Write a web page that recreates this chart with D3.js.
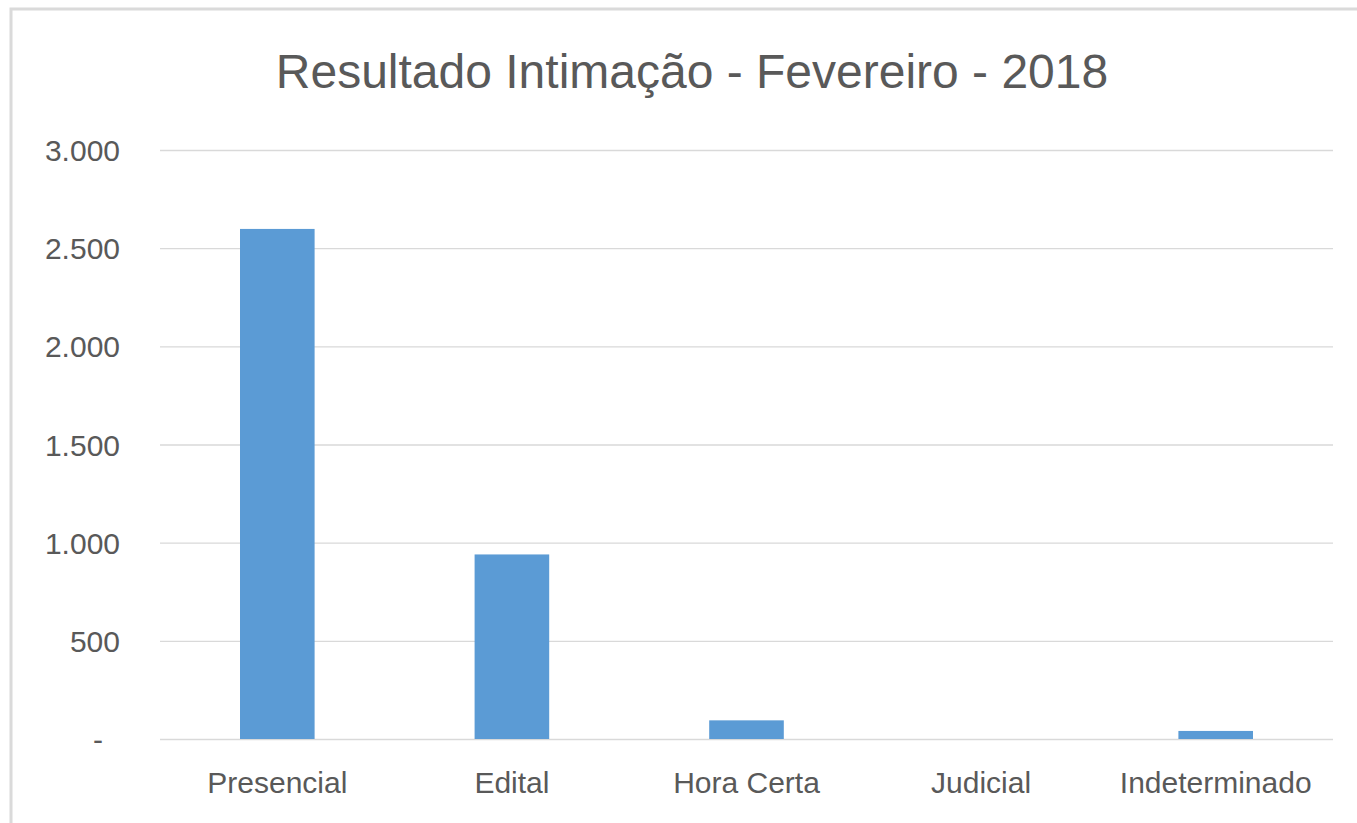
<!DOCTYPE html>
<html>
<head>
<meta charset="utf-8">
<script src="https://cdn.jsdelivr.net/npm/d3@7"></script>
<style>
  body { margin: 0; background: #fff; }
  text { font-family: "Liberation Sans", Arial, sans-serif; fill: #595959; }
</style>
</head>
<body>
<svg id="chart" width="1357" height="823"></svg>
<script>
const title = 'Resultado Intimação - Fevereiro - 2018';
const categories = ['Presencial', 'Edital', 'Hora Certa', 'Judicial', 'Indeterminado'];
const values = [2598, 940, 95, 0, 41];
const tickValues = [0, 500, 1000, 1500, 2000, 2500, 3000];
const tickLabels = ['-', '500', '1.000', '1.500', '2.000', '2.500', '3.000'];

const width = 1357, height = 823;
const margin = { top: 150, right: 24, bottom: 84, left: 160 };

const svg = d3.select('#chart');

// outer chart border (only top and left visible in the crop)
svg.append('rect')
  .attr('x', 11).attr('y', 9)
  .attr('width', 1500).attr('height', 1000)
  .attr('fill', 'none')
  .attr('stroke', '#dadada')
  .attr('stroke-width', 3);

svg.append('text')
  .attr('x', 692)
  .attr('y', 88)
  .attr('text-anchor', 'middle')
  .style('font-size', '48px')
  .text(title);

const innerW = width - margin.left - margin.right;
const innerH = height - margin.top - margin.bottom;

const chart = svg.append('g')
  .attr('transform', `translate(${margin.left},${margin.top})`);

const x = d3.scaleBand()
  .domain(categories)
  .range([0, innerW])
  .paddingInner(0.682)
  .paddingOuter(0.341);

const y = d3.scaleLinear()
  .domain([0, 3000])
  .range([innerH, 0]);

// gridlines + y labels
const yAxis = chart.append('g')
  .call(d3.axisLeft(y)
    .tickValues(tickValues)
    .tickSize(-innerW)
    .tickPadding(40)
    .tickFormat((d, i) => tickLabels[i]));
yAxis.select('.domain').remove();
yAxis.selectAll('.tick line')
  .attr('stroke', '#d9d9d9')
  .attr('stroke-width', 1.3);
yAxis.selectAll('.tick text')
  .style('font-size', '30px')
  .attr('fill', '#595959')
  .attr('dy', '0.35em')
  .attr('dx', d => d === 0 ? -17 : 0);

// bars
chart.selectAll('.bar')
  .data(values)
  .enter().append('rect')
  .attr('class', 'bar')
  .attr('x', (d, i) => x(categories[i]))
  .attr('width', x.bandwidth())
  .attr('y', d => y(d))
  .attr('height', d => innerH - y(d))
  .attr('fill', '#5b9bd5');

// category axis
const xAxis = chart.append('g')
  .attr('transform', `translate(0,${innerH})`)
  .call(d3.axisBottom(x).tickSize(0).tickPadding(33));
xAxis.select('.domain').remove();
xAxis.selectAll('.tick text')
  .style('font-size', '30px')
  .attr('fill', '#595959');
</script>
</body>
</html>
